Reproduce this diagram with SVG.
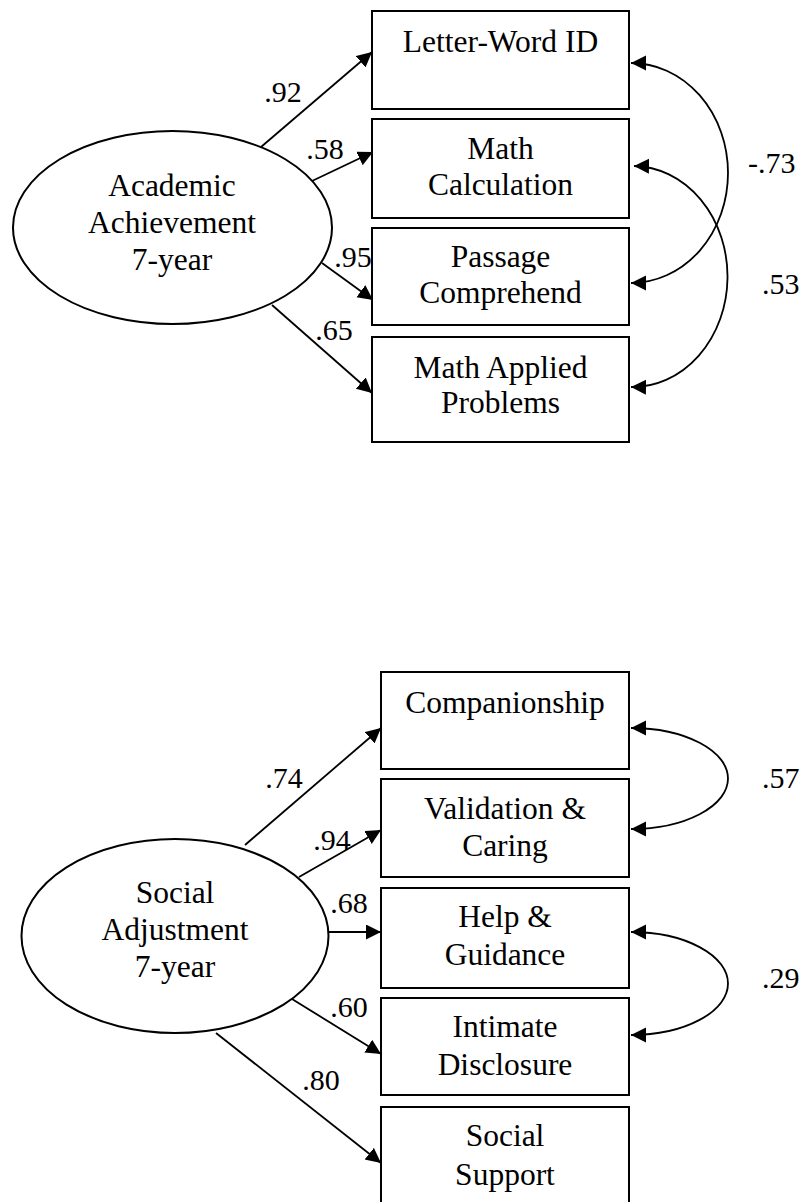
<svg xmlns="http://www.w3.org/2000/svg" width="804" height="1202" viewBox="0 0 804 1202">
<style>
  .box { fill: #fff; stroke: #000; stroke-width: 2; }
  .lat { fill: #fff; stroke: #000; stroke-width: 2; }
  .t { font-family: "Liberation Serif", "Times New Roman", serif; font-size: 31.5px; fill: #000; text-anchor: middle; }
  .lbl { font-family: "Liberation Serif", "Times New Roman", serif; font-size: 30px; fill: #000; }
  .m { text-anchor: middle; }
  .edge { fill: none; stroke: #000; stroke-width: 1.8; }
</style>
<defs>
  <marker id="ah" markerUnits="userSpaceOnUse" markerWidth="16" markerHeight="16" refX="15" refY="7.5" orient="auto-start-reverse" viewBox="0 0 16 16">
    <path d="M0,0 L15,7.5 L0,15 z" fill="#000"/>
  </marker>
</defs>
<rect width="804" height="1202" fill="#fff"/>

<g id="connectors">
  <line class="edge" x1="261" y1="147" x2="372" y2="52" marker-end="url(#ah)"/>
  <line class="edge" x1="312" y1="181" x2="373" y2="152" marker-end="url(#ah)"/>
  <line class="edge" x1="322" y1="263" x2="373" y2="300" marker-end="url(#ah)"/>
  <line class="edge" x1="272" y1="305" x2="372" y2="393" marker-end="url(#ah)"/>
  <path class="edge" d="M631,63 A97,110 0 0 1 631,283" marker-start="url(#ah)" marker-end="url(#ah)"/>
  <path class="edge" d="M634,166 A95,110.5 0 0 1 631,387" marker-start="url(#ah)" marker-end="url(#ah)"/>

  <line class="edge" x1="245" y1="845" x2="381" y2="728" marker-end="url(#ah)"/>
  <line class="edge" x1="299" y1="877" x2="381" y2="830" marker-end="url(#ah)"/>
  <line class="edge" x1="328" y1="932" x2="381" y2="932" marker-end="url(#ah)"/>
  <line class="edge" x1="292" y1="999" x2="381" y2="1054" marker-end="url(#ah)"/>
  <line class="edge" x1="216" y1="1033" x2="381" y2="1163" marker-end="url(#ah)"/>
  <path class="edge" d="M631,728 A97,50.5 0 0 1 631,829" marker-start="url(#ah)" marker-end="url(#ah)"/>
  <path class="edge" d="M631,932 A97,51.5 0 0 1 631,1035" marker-start="url(#ah)" marker-end="url(#ah)"/>

  <text class="lbl m" x="283" y="102">.92</text>
  <text class="lbl m" x="325" y="159">.58</text>
  <text class="lbl m" x="353" y="267">.95</text>
  <text class="lbl m" x="334" y="340">.65</text>
  <text class="lbl" x="748" y="173">-.73</text>
  <text class="lbl" x="762" y="294">.53</text>
  <text class="lbl m" x="284" y="788">.74</text>
  <text class="lbl m" x="332" y="850">.94</text>
  <text class="lbl m" x="349" y="913">.68</text>
  <text class="lbl m" x="349" y="1017">.60</text>
  <text class="lbl m" x="321" y="1090">.80</text>
  <text class="lbl" x="762" y="788">.57</text>
  <text class="lbl" x="762" y="988">.29</text>
</g>

<g id="academic">
  <ellipse class="lat" cx="172.5" cy="227.5" rx="159.5" ry="96.5"/>
  <text class="t" x="172" y="196">Academic</text>
  <text class="t" x="172" y="233">Achievement</text>
  <text class="t" x="172" y="270">7-year</text>
</g>
<g id="letterword">
  <rect class="box" x="372" y="11" width="257" height="98"/>
  <text class="t" x="500.5" y="52">Letter-Word ID</text>
</g>
<g id="mathcalc">
  <rect class="box" x="372" y="119" width="257" height="99"/>
  <text class="t" x="500.5" y="159">Math</text>
  <text class="t" x="500.5" y="195">Calculation</text>
</g>
<g id="passage">
  <rect class="box" x="372" y="228" width="257" height="97"/>
  <text class="t" x="500.5" y="267">Passage</text>
  <text class="t" x="500.5" y="303">Comprehend</text>
</g>
<g id="mathapplied">
  <rect class="box" x="372" y="337" width="257" height="105"/>
  <text class="t" x="500.5" y="378">Math Applied</text>
  <text class="t" x="500.5" y="413">Problems</text>
</g>

<g id="social">
  <ellipse class="lat" cx="175" cy="936" rx="153.5" ry="97"/>
  <text class="t" x="175" y="903">Social</text>
  <text class="t" x="175" y="940">Adjustment</text>
  <text class="t" x="175" y="977">7-year</text>
</g>
<g id="companionship">
  <rect class="box" x="381" y="672" width="248" height="97"/>
  <text class="t" x="505" y="713">Companionship</text>
</g>
<g id="validation">
  <rect class="box" x="381" y="779" width="248" height="98"/>
  <text class="t" x="505" y="819">Validation &amp;</text>
  <text class="t" x="505" y="856">Caring</text>
</g>
<g id="help">
  <rect class="box" x="381" y="888" width="248" height="100"/>
  <text class="t" x="505" y="927">Help &amp;</text>
  <text class="t" x="505" y="965">Guidance</text>
</g>
<g id="intimate">
  <rect class="box" x="381" y="998" width="248" height="97"/>
  <text class="t" x="505" y="1037">Intimate</text>
  <text class="t" x="505" y="1075">Disclosure</text>
</g>
<g id="support">
  <rect class="box" x="381" y="1107" width="248" height="110"/>
  <text class="t" x="505" y="1146">Social</text>
  <text class="t" x="505" y="1185">Support</text>
</g>
</svg>
